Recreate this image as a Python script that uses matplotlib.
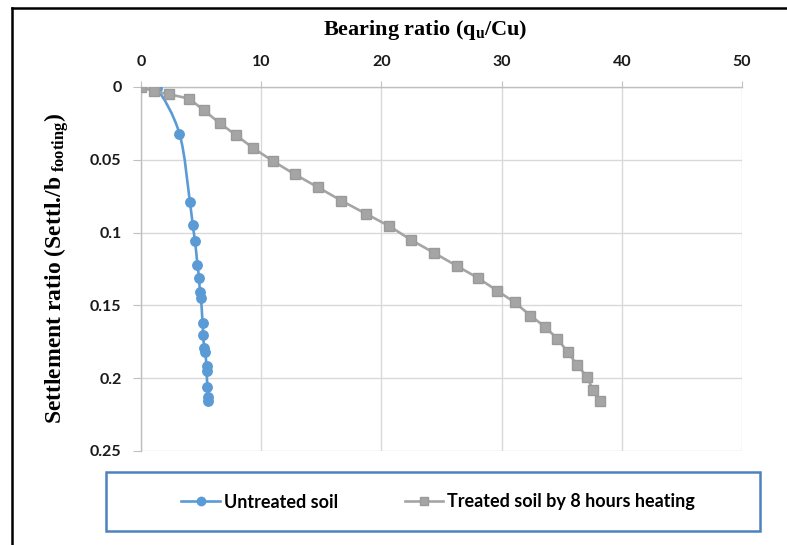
import numpy as np
import matplotlib
matplotlib.use("Agg")
import matplotlib.pyplot as plt
from matplotlib.path import Path
from matplotlib.patches import PathPatch, Rectangle
from matplotlib.lines import Line2D

plt.rcParams['mathtext.fontset'] = 'custom'
plt.rcParams['mathtext.rm'] = 'Liberation Serif:bold'
plt.rcParams['mathtext.it'] = 'Liberation Serif:bold'
plt.rcParams['mathtext.bf'] = 'Liberation Serif:bold'

# ---- data ----
untreated_x = [0, 1.3, 3.2, 4.07, 4.3, 4.5, 4.7, 4.83, 4.9, 4.99, 5.12, 5.17, 5.26, 5.34,
               5.45, 5.45, 5.53, 5.6, 5.6]
untreated_y = [0, 0.001, 0.032, 0.079, 0.095, 0.106, 0.1225, 0.131, 0.141, 0.145, 0.162,
               0.1705, 0.179, 0.182, 0.1915, 0.195, 0.206, 0.213, 0.2155]

treated_x = [0, 1.08, 2.36, 4.0, 5.24, 6.57, 7.9, 9.34, 11.0, 12.8, 14.75, 16.65, 18.7,
             20.65, 22.46, 24.4, 26.3, 28.0, 29.65, 31.1, 32.4, 33.65, 34.65, 35.5, 36.3,
             37.1, 37.6, 38.2]
treated_y = [0, 0.003, 0.005, 0.008, 0.016, 0.025, 0.033, 0.042, 0.051, 0.060, 0.069,
             0.078, 0.087, 0.0955, 0.105, 0.114, 0.123, 0.131, 0.140, 0.148, 0.157, 0.165,
             0.173, 0.182, 0.191, 0.199, 0.208, 0.2155]

x_ticks = [0, 10, 20, 30, 40, 50]
y_ticks = [0, 0.05, 0.1, 0.15, 0.2, 0.25]
y_tick_labels = ['0', '0.05', '0.1', '0.15', '0.2', '0.25']

series_names = ['Untreated soil', 'Treated soil by 8 hours heating']
blue = '#5B9BD5'
grey = '#A5A5A5'

fig = plt.figure(figsize=(7.87, 5.45), dpi=100)
ax = fig.add_axes([141/787, 1-451/545, (742-141)/787, (451-87)/545])

# smooth (Excel-like) curve for untreated soil, drawn as Bezier path
def smooth_path(xs, ys):
    P = np.column_stack([xs, ys]).astype(float)
    n = len(P)
    verts = [P[0]]
    codes = [Path.MOVETO]
    for i in range(n - 1):
        p0 = P[i - 1] if i > 0 else P[i]
        p1 = P[i]
        p2 = P[i + 1]
        p3 = P[i + 2] if i + 2 < n else P[i + 1]
        c1 = p1 + (p2 - p0) / 6.0
        c2 = p2 - (p3 - p1) / 6.0
        verts += [c1, c2, p2]
        codes += [Path.CURVE4] * 3
    return Path(verts, codes)

ax.add_patch(PathPatch(smooth_path(untreated_x, untreated_y), facecolor='none',
                       edgecolor=blue, lw=1.9, zorder=3, capstyle='round'))
ax.plot(untreated_x, untreated_y, linestyle='none', marker='o', ms=6.8, color=blue,
        mec=blue, zorder=4)
ax.plot(treated_x, treated_y, color=grey, lw=1.9, marker='s', ms=6.8, mfc=grey,
        mec='#9A9A9A', zorder=5)

ax.set_xlim(0, 50)
ax.set_ylim(0.25, 0)
ax.xaxis.tick_top()
ax.set_xticks(x_ticks)
ax.set_xticklabels([str(t) for t in x_ticks])
ax.set_yticks(y_ticks)
ax.set_yticklabels(y_tick_labels)
ax.grid(True, color='#D9D9D9', lw=1.0)
ax.set_axisbelow(True)
for s in ['right', 'bottom']:
    ax.spines[s].set_visible(False)
for s in ['top', 'left']:
    ax.spines[s].set_color('#BFBFBF')
    ax.spines[s].set_linewidth(1.0)
ax.tick_params(axis='x', direction='out', length=4, color='#BFBFBF', pad=9,
               labelsize=11.5)
ax.tick_params(axis='y', direction='out', length=6, color='#BFBFBF', pad=8,
               labelsize=11.5)
for lab in ax.get_xticklabels() + ax.get_yticklabels():
    lab.set_fontfamily('Lato')
    lab.set_fontweight('bold')
    lab.set_color('#1a1a1a')

fig.text(425/787, 1-30/545, r'Bearing ratio (q$_{\mathregular{u}}$/Cu)',
         ha='center', va='center', fontsize=16, fontweight='bold',
         family='Liberation Serif')
fig.text(57/787, 1-268/545, r'Settlement ratio (Settl./b$_{\mathregular{\ footing}}$)',
         ha='center', va='center', rotation=90, fontsize=17, fontweight='bold',
         family='Liberation Serif')

# legend box
fig.add_artist(Rectangle((106/787, 1-531/545), (760-106)/787, (531-472)/545,
                         transform=fig.transFigure, fill=False, edgecolor='#4F81BD',
                         lw=1.8))
handles = [Line2D([], [], color=blue, lw=1.9, marker='o', ms=6),
           Line2D([], [], color=grey, lw=1.9, marker='s', ms=6, mfc=grey, mec='#9A9A9A')]
leg = fig.legend(handles, series_names, loc='center', bbox_to_anchor=(438/787, 1-502/545),
                 ncol=2, frameon=False, handlelength=2.15, handletextpad=0.2,
                 columnspacing=3.7, prop={'family': 'Lato', 'weight': 'bold', 'size': 13})

# outer border of the figure (left and top visible)
fig.add_artist(Line2D([12/787, 12/787], [0, 1-8/545], transform=fig.transFigure,
                      color='black', lw=1.8))
fig.add_artist(Line2D([12/787, 1], [1-8/545, 1-8/545], transform=fig.transFigure,
                      color='black', lw=1.8))

fig.savefig('out.png', dpi=100)
